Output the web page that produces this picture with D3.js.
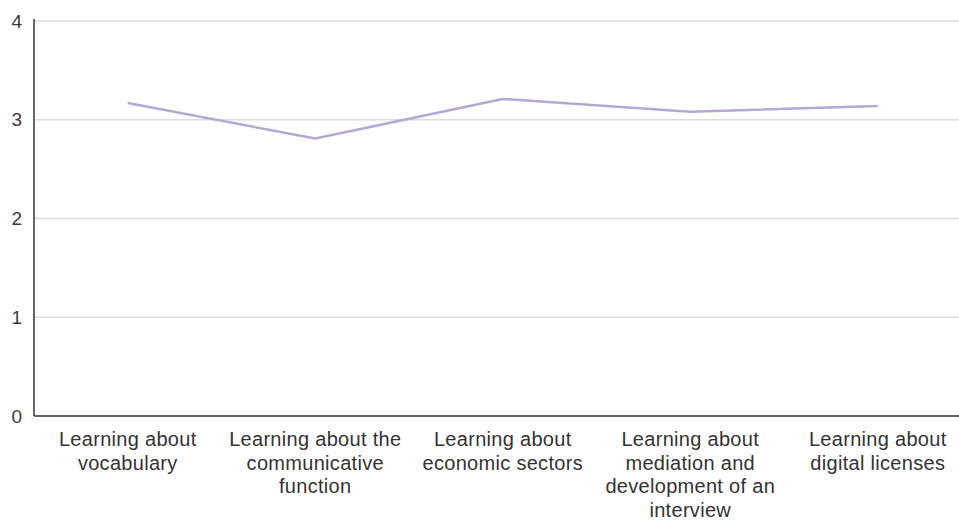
<!DOCTYPE html>
<html>
<head>
<meta charset="utf-8">
<script src="https://cdn.jsdelivr.net/npm/d3@7"></script>
<style>
  html, body { margin: 0; padding: 0; background: #fff; }
  svg { display: block; }
</style>
</head>
<body>
<svg id="chart" width="959" height="522"></svg>
<script>
const categories = [
  "Learning about vocabulary",
  "Learning about the communicative function",
  "Learning about economic sectors",
  "Learning about mediation and development of an interview",
  "Learning about digital licenses"
];
const labelLines = [
  ["Learning about", "vocabulary"],
  ["Learning about the", "communicative", "function"],
  ["Learning about", "economic sectors"],
  ["Learning about", "mediation and", "development of an", "interview"],
  ["Learning about", "digital licenses"]
];
const values = [3.17, 2.81, 3.21, 3.08, 3.14];
const yTicks = [0, 1, 2, 3, 4];

(function () {
const svg = d3.select("#chart");
const mLeft = 34, mRight = 971.5, mTop = 21, mBottom = 416;

const x = d3.scaleBand().domain(categories).range([mLeft, mRight]);
const y = d3.scaleLinear().domain([0, 4]).range([mBottom, mTop]);

// gridlines
svg.append("g")
  .selectAll("line")
  .data(yTicks.filter(d => d > 0))
  .join("line")
  .attr("x1", mLeft).attr("x2", 959)
  .attr("y1", d => y(d)).attr("y2", d => y(d))
  .attr("stroke", "#dcdcdc").attr("stroke-width", 1.5);

// y axis labels
const yAxis = d3.axisLeft(y).tickValues(yTicks).tickSize(0).tickPadding(12).tickFormat(d3.format("d"));
const gy = svg.append("g").attr("transform", `translate(${mLeft},0)`).call(yAxis);
gy.select(".domain").remove();
gy.selectAll("text")
  .attr("font-family", "Liberation Sans, Arial, sans-serif")
  .attr("font-size", 19).attr("fill", "#3a3a3a");

// axis lines
svg.append("line").attr("x1", mLeft).attr("x2", mLeft).attr("y1", mTop - 2).attr("y2", mBottom)
  .attr("stroke", "#333").attr("stroke-width", 1.5);
svg.append("line").attr("x1", mLeft).attr("x2", 959).attr("y1", mBottom).attr("y2", mBottom)
  .attr("stroke", "#333").attr("stroke-width", 1.5);

// x labels
const gx = svg.append("g");
categories.forEach((c, i) => {
  const cx = x(c) + x.bandwidth() / 2;
  const t = gx.append("text")
    .attr("x", cx)
    .attr("y", 446)
    .attr("text-anchor", "middle")
    .attr("font-family", "Liberation Sans, Arial, sans-serif")
    .attr("font-size", 20)
    .attr("letter-spacing", 0.3)
    .attr("fill", "#333");
  labelLines[i].forEach((ln, j) => {
    t.append("tspan").attr("x", cx).attr("dy", j === 0 ? 0 : 23.5).text(ln);
  });
});

// line
const line = d3.line()
  .x((d, i) => x(categories[i]) + x.bandwidth() / 2)
  .y(d => y(d));
svg.append("path")
  .datum(values)
  .attr("d", line)
  .attr("fill", "none")
  .attr("stroke", "#b4a7d6")
  .attr("stroke-width", 2.5)
  .attr("stroke-linejoin", "round");
})();
</script>
</body>
</html>
